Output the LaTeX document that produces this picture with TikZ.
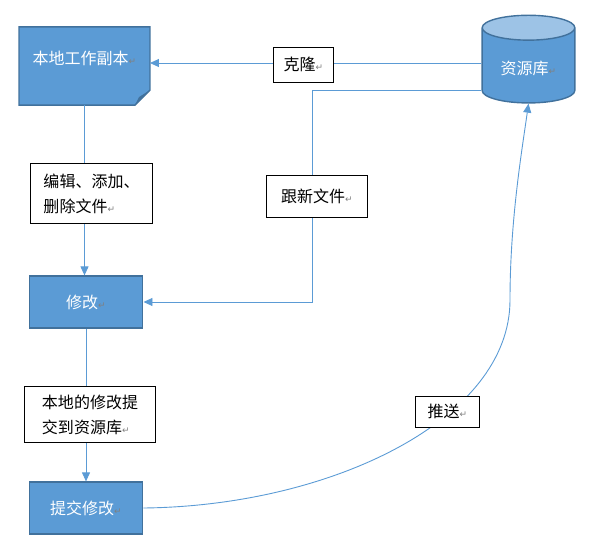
\documentclass[tikz,border=0pt]{standalone}
\usepackage{fontspec}
\setmainfont{Noto Sans CJK SC}
\newfontfamily\dejavu{DejaVu Sans}
\usepackage{xcolor}
\usepackage{tikz}
\usetikzlibrary{arrows.meta, shapes.geometric, positioning}

\definecolor{khoiXanh}{HTML}{5B9BD5}
\definecolor{vienXanh}{HTML}{41719C}
\definecolor{dayXanh}{HTML}{9DC3E6}
\definecolor{noiXanh}{HTML}{5B9BD5}
\newcommand{\chu}{\fontsize{16bp}{25bp}\selectfont}
\newcommand{\dauDong}{{\dejavu\color{gray}\fontsize{9bp}{9bp}\selectfont ↵}}

\tikzset{
    hopXanh/.style={draw=vienXanh, fill=khoiXanh, line width=1.4bp, text=white,
        minimum width=114, minimum height=52, font=\chu},
    nhan/.style={draw=black, fill=white, line width=0.8bp, align=left,
        inner sep=0pt, font=\chu},
    noi/.style={draw=noiXanh, line width=0.9bp}
}

\begin{document}
\begin{tikzpicture}[x=1bp, y=-1bp, >={Triangle[length=9bp, width=8bp]}]
    % Khung của hình
    \useasboundingbox (0,0) rectangle (595,552);

    % Khối "bản sao" có góc gấp
    \node[minimum width=131, minimum height=78] (fuBen) at (84.5,66) {};
    \filldraw[fill=khoiXanh, draw=vienXanh, line width=1.4bp]
        (fuBen.north west) -- (fuBen.north east) -- ([yshift=15]fuBen.south east)
        -- ([xshift=-15]fuBen.south east) -- (fuBen.south west) -- cycle;
    \fill[vienXanh] ([yshift=15]fuBen.south east) -- ([xshift=-15]fuBen.south east)
        -- ([xshift=-11, yshift=8]fuBen.south east) -- cycle;
    \node[text=white, font=\chu] (fuBenChu) at ([yshift=8]fuBen.center) {本地工作副本\dauDong};

    % Các khối chính
    \node[hopXanh] (xiuGai) at (86,302) {修改\dauDong};
    \node[hopXanh] (tiJiao) at (86,508) {提交修改\dauDong};
    \node[cylinder, shape border rotate=90, aspect=0.4, draw=vienXanh, line width=1.4bp,
        cylinder uses custom fill, cylinder body fill=khoiXanh, cylinder end fill=dayXanh,
        minimum width=93, minimum height=88, text=white, font=\chu] (kho) at (528.5,68) {资源库\dauDong};

    % Các đường nối
    \coordinate (re) at (312,90);
    \draw[noi, ->] ([yshift=5]kho.west) -- ([yshift=5]kho.west -| fuBen.east);
    \draw[noi, ->] (kho.west |- re) -- (re) |- (xiuGai.east);
    \draw[noi, ->] (fuBen.south) -- (fuBen.south |- xiuGai.north);
    \draw[noi, ->] (xiuGai.south) -- (tiJiao.north);
    \draw[noi, ->] (tiJiao.east) .. controls (330,506) and (510,420) .. (510,300)
        .. controls (510,220) and (522,150) .. (kho.south);

    % Nhãn trên các đường nối
    \node[nhan, minimum width=61, minimum height=35] (keLong) at (303.5,64.5) {克隆\dauDong};
    \node[nhan, minimum width=102, minimum height=42] (genXin) at (317,196) {跟新文件\dauDong};
    \node[nhan, minimum width=123, minimum height=61] (bianJi) at (91.5,193.5) {编辑、添加、\\删除文件\dauDong};
    \node[nhan, minimum width=132, minimum height=57] (benDi) at (90,414.5) {本地的修改提\\交到资源库\dauDong};
    \node[nhan, minimum width=65, minimum height=31] (tuiSong) at (447.5,411.5) {推送\dauDong};
\end{tikzpicture}
\end{document}
